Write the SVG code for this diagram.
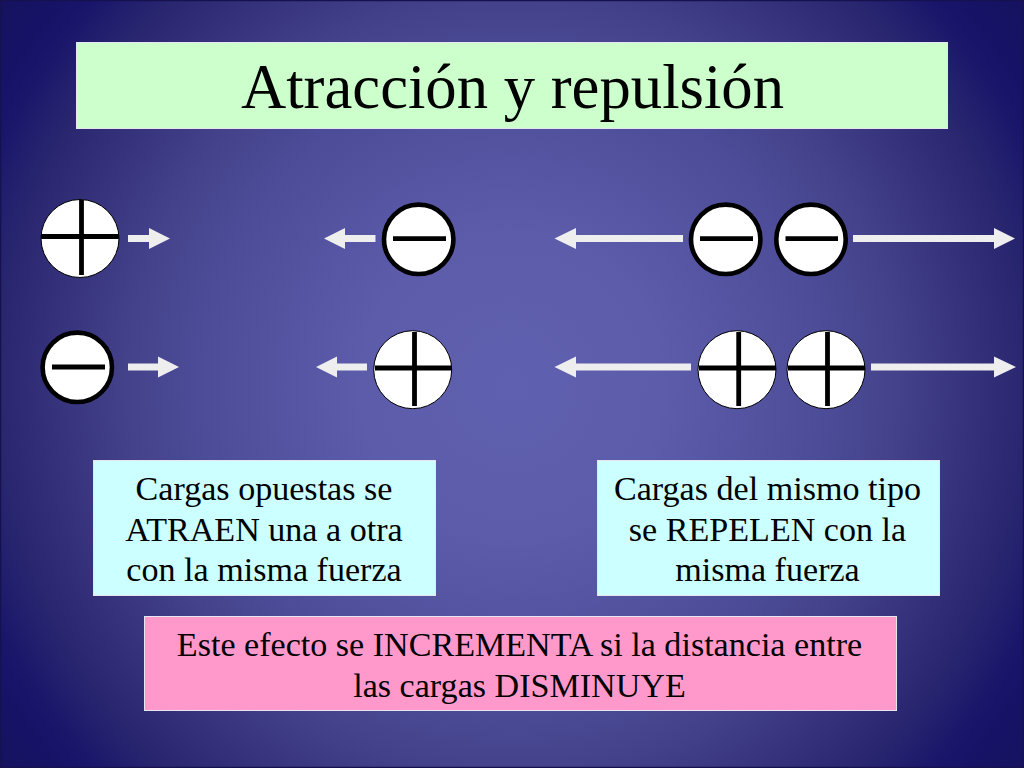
<svg xmlns="http://www.w3.org/2000/svg" width="1024" height="768" viewBox="0 0 1024 768">
<defs>
<radialGradient id="bg" gradientUnits="userSpaceOnUse" cx="512" cy="386" r="640">
<stop offset="0" stop-color="#6060b0"/><stop offset="0.234" stop-color="#5c5cab"/><stop offset="0.4875" stop-color="#4c4c98"/><stop offset="0.6" stop-color="#44428a"/><stop offset="0.8" stop-color="#2a2770"/><stop offset="0.9" stop-color="#17146a"/><stop offset="1" stop-color="#15125f"/>
</radialGradient>
</defs>
<style>
.t{font-family:"Liberation Serif","Times New Roman",serif;fill:#000;text-anchor:middle}
.b{font-size:34.100px}
.box{stroke:#e6e6f0;stroke-width:1}
.bar{stroke:#000;stroke-width:4.800;fill:none}
.plus{fill:#fff;stroke:#000;stroke-width:1}
.minus{fill:#fff;stroke:#000;stroke-width:4.600}
.arr{fill:#eeeeee}
</style>
<rect width="1024" height="768" fill="url(#bg)"/>
<rect x="0.500" y="0.500" width="1023" height="767" fill="none" stroke="#15124f" stroke-width="1.500"/>
<g id="title"><rect class="box" x="76.500" y="42.500" width="871" height="86" fill="#ccffcc"/><text class="t" x="512.500" y="108" font-size="62.700">Atracción y repulsión</text></g>
<g id="connectors">
<path class="arr" d="M128 235H149V228L170 238.600 149 249V242H128Z"/>
<path class="arr" d="M375.500 235H345V228L324 238.600 345 249V242H375.500Z"/>
<path class="arr" d="M128 363.500H158V356.500L179 367 158 377.500V370.500H128Z"/>
<path class="arr" d="M367 363.500H337V356.500L316 367 337 377.500V370.500H367Z"/>
<path class="arr" d="M683 235H576V228L554.500 238.600 576 249V242H683Z"/>
<path class="arr" d="M853 235H994V228L1015 238.600 994 249V242H853Z"/>
<path class="arr" d="M691 363.500H576V356.500L554.500 367 576 377.500V370.500H691Z"/>
<path class="arr" d="M871 363.500H994V356.500L1016 367 994 377.500V370.500H871Z"/>
</g>
<g id="plus-1"><circle class="plus" cx="80" cy="238.500" r="39"/><path class="bar" d="M41 236.500H119M81.500 200V275"/></g>
<g id="minus-1"><circle class="minus" cx="418.700" cy="239.300" r="34.700"/><path class="bar" d="M393 238.700H446"/></g>
<g id="minus-2"><circle class="minus" cx="77.300" cy="367.300" r="34.700"/><path class="bar" d="M52 367H105"/></g>
<g id="plus-2"><circle class="plus" cx="412.700" cy="369.700" r="39"/><path class="bar" d="M375 368H452M414.500 332V406"/></g>
<g id="minus-3"><circle class="minus" cx="725.700" cy="239.300" r="34.700"/><path class="bar" d="M700 238.700H753"/></g>
<g id="minus-4"><circle class="minus" cx="811" cy="239.300" r="34.700"/><path class="bar" d="M785.500 238.700H838"/></g>
<g id="plus-3"><circle class="plus" cx="737" cy="369.700" r="39"/><path class="bar" d="M699 368H776M738.700 332V406"/></g>
<g id="plus-4"><circle class="plus" cx="826" cy="369.700" r="39"/><path class="bar" d="M788 368H865M827.500 332V406"/></g>
<g id="box-opuestas"><rect class="box" x="93.500" y="460.500" width="342" height="135" fill="#ccffff"/>
<text class="t b" x="264" y="500">Cargas opuestas se</text><text class="t b" x="264" y="540.500">ATRAEN una a otra</text><text class="t b" x="264" y="581">con la misma fuerza</text></g>
<g id="box-mismo"><rect class="box" x="597.500" y="460.500" width="342" height="135" fill="#ccffff"/>
<text class="t b" x="767.500" y="500">Cargas del mismo tipo</text><text class="t b" x="767.500" y="540.500">se REPELEN con la</text><text class="t b" x="767.500" y="581">misma fuerza</text></g>
<g id="box-efecto"><rect class="box" x="144.500" y="616.500" width="752" height="94" fill="#ff99cc"/>
<text class="t b" x="519.500" y="656">Este efecto se INCREMENTA si la distancia entre</text><text class="t b" x="519.500" y="697">las cargas DISMINUYE</text></g>
</svg>
